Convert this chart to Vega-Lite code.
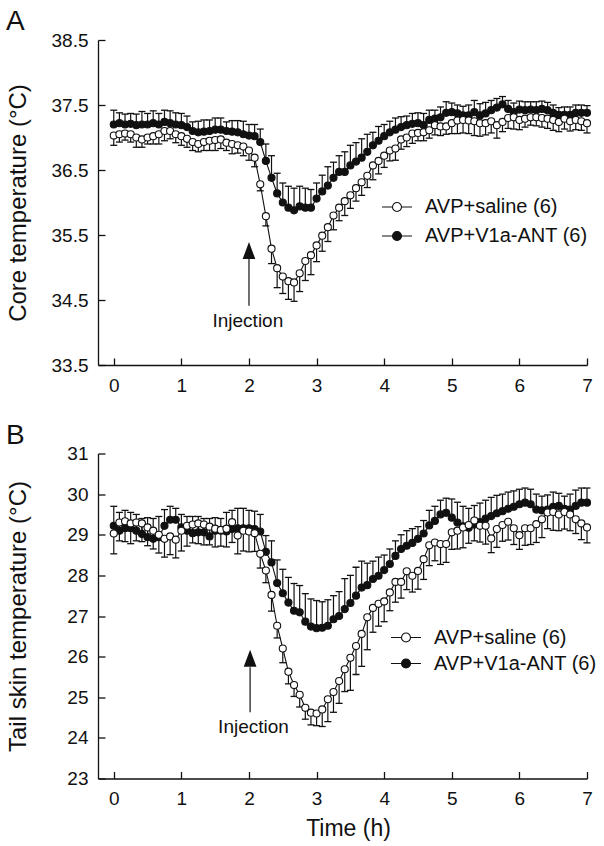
{
"$schema": "https://vega.github.io/schema/vega-lite/v6.json",
"padding": {"left": 6, "top": 8, "right": 0, "bottom": 0},
"config": {"font": "Liberation Sans", "view": {"stroke": null},
  "axis": {"grid": false, "domainColor": "#111", "domainWidth": 1.3, "tickColor": "#111", "tickWidth": 1.3, "tickSize": -7, "labelFontSize": 19, "labelColor": "#111", "titleColor": "#111", "titleFontWeight": "normal", "titleFontSize": 23, "labelFlush": false, "labelOverlap": false},
  "axisY": {"titleFontSize": 24}},
"datasets": {
"d": [
{"p":"A","g":"S","m":0,"v":37.03,"e":36.88},{"p":"A","g":"S","m":5,"v":37.05,"e":36.93},{"p":"A","g":"S","m":10,"v":37.06,"e":36.96},{"p":"A","g":"S","m":15,"v":37.05,"e":36.93},{"p":"A","g":"S","m":20,"v":37.0,"e":36.85},{"p":"A","g":"S","m":25,"v":36.97,"e":36.85},{"p":"A","g":"S","m":30,"v":37.0,"e":36.9},{"p":"A","g":"S","m":35,"v":37.02,"e":36.9},{"p":"A","g":"S","m":40,"v":37.05,"e":36.9},{"p":"A","g":"S","m":45,"v":37.1,"e":36.95},{"p":"A","g":"S","m":50,"v":37.1,"e":36.98},{"p":"A","g":"S","m":55,"v":37.05,"e":36.92},{"p":"A","g":"S","m":60,"v":37.02,"e":36.88},{"p":"A","g":"S","m":65,"v":36.98,"e":36.85},{"p":"A","g":"S","m":70,"v":36.93,"e":36.8},{"p":"A","g":"S","m":75,"v":36.9,"e":36.78},{"p":"A","g":"S","m":80,"v":36.93,"e":36.8},{"p":"A","g":"S","m":85,"v":36.95,"e":36.8},{"p":"A","g":"S","m":90,"v":36.96,"e":36.8},{"p":"A","g":"S","m":95,"v":36.97,"e":36.83},{"p":"A","g":"S","m":100,"v":36.92,"e":36.8},{"p":"A","g":"S","m":105,"v":36.9,"e":36.75},{"p":"A","g":"S","m":110,"v":36.88,"e":36.76},{"p":"A","g":"S","m":115,"v":36.86,"e":36.72},{"p":"A","g":"S","m":120,"v":36.8,"e":36.65},{"p":"A","g":"S","m":125,"v":36.69,"e":36.55},{"p":"A","g":"S","m":130,"v":36.28,"e":36.18},{"p":"A","g":"S","m":135,"v":35.79,"e":35.64},{"p":"A","g":"S","m":140,"v":35.29,"e":35.06},{"p":"A","g":"S","m":145,"v":34.99,"e":34.69},{"p":"A","g":"S","m":150,"v":34.86,"e":34.6},{"p":"A","g":"S","m":155,"v":34.79,"e":34.51},{"p":"A","g":"S","m":160,"v":34.77,"e":34.48},{"p":"A","g":"S","m":165,"v":34.91,"e":34.63},{"p":"A","g":"S","m":170,"v":35.1,"e":34.8},{"p":"A","g":"S","m":175,"v":35.19,"e":34.89},{"p":"A","g":"S","m":180,"v":35.34,"e":35.09},{"p":"A","g":"S","m":185,"v":35.49,"e":35.25},{"p":"A","g":"S","m":190,"v":35.62,"e":35.4},{"p":"A","g":"S","m":195,"v":35.8,"e":35.58},{"p":"A","g":"S","m":200,"v":35.92,"e":35.72},{"p":"A","g":"S","m":205,"v":36.02,"e":35.8},{"p":"A","g":"S","m":210,"v":36.11,"e":35.91},{"p":"A","g":"S","m":215,"v":36.22,"e":36.02},{"p":"A","g":"S","m":220,"v":36.31,"e":36.11},{"p":"A","g":"S","m":225,"v":36.41,"e":36.23},{"p":"A","g":"S","m":230,"v":36.57,"e":36.35},{"p":"A","g":"S","m":235,"v":36.64,"e":36.44},{"p":"A","g":"S","m":240,"v":36.72,"e":36.54},{"p":"A","g":"S","m":245,"v":36.8,"e":36.64},{"p":"A","g":"S","m":250,"v":36.83,"e":36.65},{"p":"A","g":"S","m":255,"v":36.97,"e":36.82},{"p":"A","g":"S","m":260,"v":37.0,"e":36.86},{"p":"A","g":"S","m":265,"v":37.06,"e":36.91},{"p":"A","g":"S","m":270,"v":37.07,"e":36.95},{"p":"A","g":"S","m":275,"v":37.08,"e":36.95},{"p":"A","g":"S","m":280,"v":37.11,"e":36.99},{"p":"A","g":"S","m":285,"v":37.19,"e":37.04},{"p":"A","g":"S","m":290,"v":37.17,"e":37.03},{"p":"A","g":"S","m":295,"v":37.17,"e":37.05},{"p":"A","g":"S","m":300,"v":37.22,"e":37.06},{"p":"A","g":"S","m":305,"v":37.26,"e":37.06},{"p":"A","g":"S","m":310,"v":37.27,"e":37.07},{"p":"A","g":"S","m":315,"v":37.26,"e":37.06},{"p":"A","g":"S","m":320,"v":37.25,"e":37.03},{"p":"A","g":"S","m":325,"v":37.22,"e":37.02},{"p":"A","g":"S","m":330,"v":37.22,"e":37.04},{"p":"A","g":"S","m":335,"v":37.25,"e":37.07},{"p":"A","g":"S","m":340,"v":37.19,"e":36.99},{"p":"A","g":"S","m":345,"v":37.24,"e":37.09},{"p":"A","g":"S","m":350,"v":37.3,"e":37.14},{"p":"A","g":"S","m":355,"v":37.31,"e":37.13},{"p":"A","g":"S","m":360,"v":37.27,"e":37.12},{"p":"A","g":"S","m":365,"v":37.29,"e":37.16},{"p":"A","g":"S","m":370,"v":37.31,"e":37.19},{"p":"A","g":"S","m":375,"v":37.31,"e":37.18},{"p":"A","g":"S","m":380,"v":37.3,"e":37.16},{"p":"A","g":"S","m":385,"v":37.29,"e":37.14},{"p":"A","g":"S","m":390,"v":37.27,"e":37.11},{"p":"A","g":"S","m":395,"v":37.24,"e":37.09},{"p":"A","g":"S","m":400,"v":37.29,"e":37.13},{"p":"A","g":"S","m":405,"v":37.25,"e":37.1},{"p":"A","g":"S","m":410,"v":37.27,"e":37.12},{"p":"A","g":"S","m":415,"v":37.25,"e":37.11},{"p":"A","g":"S","m":420,"v":37.22,"e":37.07},
{"p":"A","g":"N","m":0,"v":37.2,"e":37.42},{"p":"A","g":"N","m":5,"v":37.22,"e":37.38},{"p":"A","g":"N","m":10,"v":37.2,"e":37.36},{"p":"A","g":"N","m":15,"v":37.21,"e":37.37},{"p":"A","g":"N","m":20,"v":37.19,"e":37.36},{"p":"A","g":"N","m":25,"v":37.2,"e":37.4},{"p":"A","g":"N","m":30,"v":37.2,"e":37.37},{"p":"A","g":"N","m":35,"v":37.22,"e":37.41},{"p":"A","g":"N","m":40,"v":37.2,"e":37.37},{"p":"A","g":"N","m":45,"v":37.24,"e":37.42},{"p":"A","g":"N","m":50,"v":37.22,"e":37.41},{"p":"A","g":"N","m":55,"v":37.2,"e":37.38},{"p":"A","g":"N","m":60,"v":37.19,"e":37.37},{"p":"A","g":"N","m":65,"v":37.16,"e":37.33},{"p":"A","g":"N","m":70,"v":37.1,"e":37.24},{"p":"A","g":"N","m":75,"v":37.08,"e":37.25},{"p":"A","g":"N","m":80,"v":37.09,"e":37.27},{"p":"A","g":"N","m":85,"v":37.1,"e":37.27},{"p":"A","g":"N","m":90,"v":37.12,"e":37.3},{"p":"A","g":"N","m":95,"v":37.12,"e":37.3},{"p":"A","g":"N","m":100,"v":37.1,"e":37.24},{"p":"A","g":"N","m":105,"v":37.09,"e":37.26},{"p":"A","g":"N","m":110,"v":37.08,"e":37.26},{"p":"A","g":"N","m":115,"v":37.05,"e":37.25},{"p":"A","g":"N","m":120,"v":37.03,"e":37.2},{"p":"A","g":"N","m":125,"v":37.02,"e":37.2},{"p":"A","g":"N","m":130,"v":36.93,"e":37.13},{"p":"A","g":"N","m":135,"v":36.64,"e":36.9},{"p":"A","g":"N","m":140,"v":36.38,"e":36.72},{"p":"A","g":"N","m":145,"v":36.14,"e":36.45},{"p":"A","g":"N","m":150,"v":36.0,"e":36.3},{"p":"A","g":"N","m":155,"v":35.92,"e":36.25},{"p":"A","g":"N","m":160,"v":35.88,"e":36.22},{"p":"A","g":"N","m":165,"v":35.94,"e":36.25},{"p":"A","g":"N","m":170,"v":35.92,"e":36.22},{"p":"A","g":"N","m":175,"v":35.92,"e":36.2},{"p":"A","g":"N","m":180,"v":36.06,"e":36.3},{"p":"A","g":"N","m":185,"v":36.17,"e":36.42},{"p":"A","g":"N","m":190,"v":36.26,"e":36.55},{"p":"A","g":"N","m":195,"v":36.38,"e":36.62},{"p":"A","g":"N","m":200,"v":36.47,"e":36.72},{"p":"A","g":"N","m":205,"v":36.47,"e":36.78},{"p":"A","g":"N","m":210,"v":36.57,"e":36.88},{"p":"A","g":"N","m":215,"v":36.63,"e":36.92},{"p":"A","g":"N","m":220,"v":36.69,"e":36.98},{"p":"A","g":"N","m":225,"v":36.78,"e":37.05},{"p":"A","g":"N","m":230,"v":36.88,"e":37.08},{"p":"A","g":"N","m":235,"v":36.95,"e":37.17},{"p":"A","g":"N","m":240,"v":37.02,"e":37.2},{"p":"A","g":"N","m":245,"v":37.08,"e":37.25},{"p":"A","g":"N","m":250,"v":37.12,"e":37.3},{"p":"A","g":"N","m":255,"v":37.16,"e":37.32},{"p":"A","g":"N","m":260,"v":37.19,"e":37.33},{"p":"A","g":"N","m":265,"v":37.21,"e":37.37},{"p":"A","g":"N","m":270,"v":37.22,"e":37.38},{"p":"A","g":"N","m":275,"v":37.19,"e":37.37},{"p":"A","g":"N","m":280,"v":37.27,"e":37.42},{"p":"A","g":"N","m":285,"v":37.29,"e":37.42},{"p":"A","g":"N","m":290,"v":37.31,"e":37.47},{"p":"A","g":"N","m":295,"v":37.38,"e":37.55},{"p":"A","g":"N","m":300,"v":37.39,"e":37.53},{"p":"A","g":"N","m":305,"v":37.37,"e":37.5},{"p":"A","g":"N","m":310,"v":37.34,"e":37.48},{"p":"A","g":"N","m":315,"v":37.34,"e":37.5},{"p":"A","g":"N","m":320,"v":37.39,"e":37.57},{"p":"A","g":"N","m":325,"v":37.34,"e":37.52},{"p":"A","g":"N","m":330,"v":37.37,"e":37.54},{"p":"A","g":"N","m":335,"v":37.42,"e":37.57},{"p":"A","g":"N","m":340,"v":37.46,"e":37.6},{"p":"A","g":"N","m":345,"v":37.51,"e":37.63},{"p":"A","g":"N","m":350,"v":37.44,"e":37.57},{"p":"A","g":"N","m":355,"v":37.39,"e":37.53},{"p":"A","g":"N","m":360,"v":37.43,"e":37.56},{"p":"A","g":"N","m":365,"v":37.42,"e":37.55},{"p":"A","g":"N","m":370,"v":37.43,"e":37.55},{"p":"A","g":"N","m":375,"v":37.42,"e":37.55},{"p":"A","g":"N","m":380,"v":37.44,"e":37.56},{"p":"A","g":"N","m":385,"v":37.42,"e":37.54},{"p":"A","g":"N","m":390,"v":37.38,"e":37.5},{"p":"A","g":"N","m":395,"v":37.35,"e":37.46},{"p":"A","g":"N","m":400,"v":37.35,"e":37.47},{"p":"A","g":"N","m":405,"v":37.35,"e":37.47},{"p":"A","g":"N","m":410,"v":37.38,"e":37.5},{"p":"A","g":"N","m":415,"v":37.38,"e":37.5},{"p":"A","g":"N","m":420,"v":37.38,"e":37.49},
{"p":"B","g":"S","m":0,"v":29.03,"e":28.53},{"p":"B","g":"S","m":5,"v":29.3,"e":28.85},{"p":"B","g":"S","m":10,"v":29.33,"e":28.83},{"p":"B","g":"S","m":15,"v":29.28,"e":28.78},{"p":"B","g":"S","m":20,"v":29.3,"e":28.85},{"p":"B","g":"S","m":25,"v":29.28,"e":28.83},{"p":"B","g":"S","m":30,"v":29.18,"e":28.73},{"p":"B","g":"S","m":35,"v":29.1,"e":28.65},{"p":"B","g":"S","m":40,"v":29.0,"e":28.55},{"p":"B","g":"S","m":45,"v":28.9,"e":28.45},{"p":"B","g":"S","m":50,"v":28.96,"e":28.51},{"p":"B","g":"S","m":55,"v":28.88,"e":28.43},{"p":"B","g":"S","m":60,"v":29.1,"e":28.6},{"p":"B","g":"S","m":65,"v":29.22,"e":28.72},{"p":"B","g":"S","m":70,"v":29.25,"e":28.8},{"p":"B","g":"S","m":75,"v":29.28,"e":28.78},{"p":"B","g":"S","m":80,"v":29.25,"e":28.75},{"p":"B","g":"S","m":85,"v":29.2,"e":28.75},{"p":"B","g":"S","m":90,"v":29.15,"e":28.7},{"p":"B","g":"S","m":95,"v":29.12,"e":28.72},{"p":"B","g":"S","m":100,"v":29.15,"e":28.7},{"p":"B","g":"S","m":105,"v":29.31,"e":28.81},{"p":"B","g":"S","m":110,"v":28.98,"e":28.53},{"p":"B","g":"S","m":115,"v":29.1,"e":28.6},{"p":"B","g":"S","m":120,"v":29.08,"e":28.58},{"p":"B","g":"S","m":125,"v":29.04,"e":28.59},{"p":"B","g":"S","m":130,"v":28.53,"e":28.18},{"p":"B","g":"S","m":135,"v":28.12,"e":27.82},{"p":"B","g":"S","m":140,"v":27.52,"e":27.12},{"p":"B","g":"S","m":145,"v":26.76,"e":26.46},{"p":"B","g":"S","m":150,"v":26.2,"e":25.85},{"p":"B","g":"S","m":155,"v":25.63,"e":25.33},{"p":"B","g":"S","m":160,"v":25.3,"e":25.02},{"p":"B","g":"S","m":165,"v":25.06,"e":24.76},{"p":"B","g":"S","m":170,"v":24.74,"e":24.46},{"p":"B","g":"S","m":175,"v":24.62,"e":24.32},{"p":"B","g":"S","m":180,"v":24.6,"e":24.3},{"p":"B","g":"S","m":185,"v":24.7,"e":24.28},{"p":"B","g":"S","m":190,"v":24.95,"e":24.4},{"p":"B","g":"S","m":195,"v":25.13,"e":24.63},{"p":"B","g":"S","m":200,"v":25.4,"e":24.85},{"p":"B","g":"S","m":205,"v":25.69,"e":25.14},{"p":"B","g":"S","m":210,"v":25.97,"e":25.17},{"p":"B","g":"S","m":215,"v":26.26,"e":25.56},{"p":"B","g":"S","m":220,"v":26.56,"e":25.76},{"p":"B","g":"S","m":225,"v":26.97,"e":26.17},{"p":"B","g":"S","m":230,"v":27.2,"e":26.6},{"p":"B","g":"S","m":235,"v":27.3,"e":26.75},{"p":"B","g":"S","m":240,"v":27.36,"e":26.86},{"p":"B","g":"S","m":245,"v":27.58,"e":27.13},{"p":"B","g":"S","m":250,"v":27.84,"e":27.34},{"p":"B","g":"S","m":255,"v":27.84,"e":27.44},{"p":"B","g":"S","m":260,"v":28.1,"e":27.65},{"p":"B","g":"S","m":265,"v":27.99,"e":27.59},{"p":"B","g":"S","m":270,"v":28.11,"e":27.66},{"p":"B","g":"S","m":275,"v":28.4,"e":27.9},{"p":"B","g":"S","m":280,"v":28.74,"e":28.24},{"p":"B","g":"S","m":285,"v":28.81,"e":28.36},{"p":"B","g":"S","m":290,"v":28.77,"e":28.27},{"p":"B","g":"S","m":295,"v":28.77,"e":28.32},{"p":"B","g":"S","m":300,"v":29.06,"e":28.64},{"p":"B","g":"S","m":305,"v":29.1,"e":28.65},{"p":"B","g":"S","m":310,"v":29.18,"e":28.68},{"p":"B","g":"S","m":315,"v":29.24,"e":28.79},{"p":"B","g":"S","m":320,"v":29.35,"e":28.85},{"p":"B","g":"S","m":325,"v":29.22,"e":28.82},{"p":"B","g":"S","m":330,"v":29.22,"e":28.77},{"p":"B","g":"S","m":335,"v":28.91,"e":28.56},{"p":"B","g":"S","m":340,"v":29.14,"e":28.69},{"p":"B","g":"S","m":345,"v":29.24,"e":28.84},{"p":"B","g":"S","m":350,"v":29.32,"e":28.87},{"p":"B","g":"S","m":355,"v":29.16,"e":28.76},{"p":"B","g":"S","m":360,"v":28.99,"e":28.64},{"p":"B","g":"S","m":365,"v":29.16,"e":28.74},{"p":"B","g":"S","m":370,"v":29.16,"e":28.76},{"p":"B","g":"S","m":375,"v":29.26,"e":28.81},{"p":"B","g":"S","m":380,"v":29.38,"e":28.93},{"p":"B","g":"S","m":385,"v":29.55,"e":29.15},{"p":"B","g":"S","m":390,"v":29.56,"e":29.11},{"p":"B","g":"S","m":395,"v":29.5,"e":29.1},{"p":"B","g":"S","m":400,"v":29.56,"e":29.14},{"p":"B","g":"S","m":405,"v":29.5,"e":29.1},{"p":"B","g":"S","m":410,"v":29.38,"e":29.03},{"p":"B","g":"S","m":415,"v":29.28,"e":28.88},{"p":"B","g":"S","m":420,"v":29.18,"e":28.8},
{"p":"B","g":"N","m":0,"v":29.22,"e":29.7},{"p":"B","g":"N","m":5,"v":29.1,"e":29.55},{"p":"B","g":"N","m":10,"v":29.16,"e":29.6},{"p":"B","g":"N","m":15,"v":29.16,"e":29.55},{"p":"B","g":"N","m":20,"v":29.1,"e":29.5},{"p":"B","g":"N","m":25,"v":29.02,"e":29.4},{"p":"B","g":"N","m":30,"v":28.94,"e":29.42},{"p":"B","g":"N","m":35,"v":28.9,"e":29.4},{"p":"B","g":"N","m":40,"v":28.94,"e":29.45},{"p":"B","g":"N","m":45,"v":29.22,"e":29.62},{"p":"B","g":"N","m":50,"v":29.37,"e":29.7},{"p":"B","g":"N","m":55,"v":29.37,"e":29.65},{"p":"B","g":"N","m":60,"v":29.18,"e":29.5},{"p":"B","g":"N","m":65,"v":29.1,"e":29.45},{"p":"B","g":"N","m":70,"v":29.04,"e":29.45},{"p":"B","g":"N","m":75,"v":29.06,"e":29.45},{"p":"B","g":"N","m":80,"v":29.06,"e":29.4},{"p":"B","g":"N","m":85,"v":28.96,"e":29.4},{"p":"B","g":"N","m":90,"v":29.1,"e":29.42},{"p":"B","g":"N","m":95,"v":29.1,"e":29.4},{"p":"B","g":"N","m":100,"v":29.08,"e":29.55},{"p":"B","g":"N","m":105,"v":29.14,"e":29.6},{"p":"B","g":"N","m":110,"v":29.16,"e":29.65},{"p":"B","g":"N","m":115,"v":29.16,"e":29.65},{"p":"B","g":"N","m":120,"v":29.16,"e":29.6},{"p":"B","g":"N","m":125,"v":29.14,"e":29.58},{"p":"B","g":"N","m":130,"v":29.08,"e":29.5},{"p":"B","g":"N","m":135,"v":28.58,"e":28.98},{"p":"B","g":"N","m":140,"v":28.32,"e":28.85},{"p":"B","g":"N","m":145,"v":27.81,"e":28.38},{"p":"B","g":"N","m":150,"v":27.56,"e":28.15},{"p":"B","g":"N","m":155,"v":27.33,"e":27.95},{"p":"B","g":"N","m":160,"v":27.13,"e":27.8},{"p":"B","g":"N","m":165,"v":27.09,"e":27.75},{"p":"B","g":"N","m":170,"v":26.86,"e":27.55},{"p":"B","g":"N","m":175,"v":26.74,"e":27.42},{"p":"B","g":"N","m":180,"v":26.7,"e":27.38},{"p":"B","g":"N","m":185,"v":26.71,"e":27.35},{"p":"B","g":"N","m":190,"v":26.76,"e":27.4},{"p":"B","g":"N","m":195,"v":26.92,"e":27.5},{"p":"B","g":"N","m":200,"v":27.0,"e":27.6},{"p":"B","g":"N","m":205,"v":27.17,"e":27.92},{"p":"B","g":"N","m":210,"v":27.32,"e":28.0},{"p":"B","g":"N","m":215,"v":27.5,"e":28.2},{"p":"B","g":"N","m":220,"v":27.7,"e":28.35},{"p":"B","g":"N","m":225,"v":27.76,"e":28.3},{"p":"B","g":"N","m":230,"v":27.91,"e":28.35},{"p":"B","g":"N","m":235,"v":27.99,"e":28.45},{"p":"B","g":"N","m":240,"v":28.13,"e":28.5},{"p":"B","g":"N","m":245,"v":28.28,"e":28.65},{"p":"B","g":"N","m":250,"v":28.48,"e":28.85},{"p":"B","g":"N","m":255,"v":28.65,"e":29.0},{"p":"B","g":"N","m":260,"v":28.73,"e":29.1},{"p":"B","g":"N","m":265,"v":28.8,"e":29.15},{"p":"B","g":"N","m":270,"v":28.9,"e":29.2},{"p":"B","g":"N","m":275,"v":29.03,"e":29.35},{"p":"B","g":"N","m":280,"v":29.23,"e":29.6},{"p":"B","g":"N","m":285,"v":29.34,"e":29.7},{"p":"B","g":"N","m":290,"v":29.5,"e":29.85},{"p":"B","g":"N","m":295,"v":29.54,"e":29.9},{"p":"B","g":"N","m":300,"v":29.42,"e":29.88},{"p":"B","g":"N","m":305,"v":29.3,"e":29.8},{"p":"B","g":"N","m":310,"v":29.21,"e":29.7},{"p":"B","g":"N","m":315,"v":29.17,"e":29.65},{"p":"B","g":"N","m":320,"v":29.25,"e":29.72},{"p":"B","g":"N","m":325,"v":29.31,"e":29.78},{"p":"B","g":"N","m":330,"v":29.4,"e":29.85},{"p":"B","g":"N","m":335,"v":29.46,"e":29.92},{"p":"B","g":"N","m":340,"v":29.53,"e":29.97},{"p":"B","g":"N","m":345,"v":29.58,"e":30.0},{"p":"B","g":"N","m":350,"v":29.64,"e":30.05},{"p":"B","g":"N","m":355,"v":29.69,"e":30.08},{"p":"B","g":"N","m":360,"v":29.75,"e":30.12},{"p":"B","g":"N","m":365,"v":29.79,"e":30.15},{"p":"B","g":"N","m":370,"v":29.75,"e":30.12},{"p":"B","g":"N","m":375,"v":29.62,"e":30.0},{"p":"B","g":"N","m":380,"v":29.6,"e":29.95},{"p":"B","g":"N","m":385,"v":29.62,"e":29.98},{"p":"B","g":"N","m":390,"v":29.69,"e":30.05},{"p":"B","g":"N","m":395,"v":29.71,"e":30.02},{"p":"B","g":"N","m":400,"v":29.64,"e":29.95},{"p":"B","g":"N","m":405,"v":29.62,"e":30.0},{"p":"B","g":"N","m":410,"v":29.71,"e":30.1},{"p":"B","g":"N","m":415,"v":29.79,"e":30.15},{"p":"B","g":"N","m":420,"v":29.79,"e":30.15}
],
"ann": [
{"p":"A","k":"shaft","m":120,"v":35.13,"e":34.41},
{"p":"A","k":"head","m":120,"v":35.26},
{"p":"A","k":"text","m":119,"v":34.18,"t":"Injection"},
{"p":"B","k":"shaft","m":121,"v":25.74,"e":24.63},
{"p":"B","k":"head","m":121,"v":25.96},
{"p":"B","k":"text","m":124,"v":24.26,"t":"Injection"}
]
},
"bounds": "flush",
"spacing": 88.5,
"resolve": {"scale": {"fill": "independent", "y": "independent"}, "legend": {"fill": "independent"}},
"vconcat": [
{
 "width": 489, "height": 325,
 "title": {"text": "A", "anchor": "start", "frame": "bounds", "fontSize": 28, "fontWeight": "normal", "baseline": "alphabetic", "offset": -27, "color": "#111"},
 "encoding": {
  "x": {"field": "m", "type": "quantitative", "scale": {"domain": [-14, 420]}, "axis": {"values": [0,60,120,180,240,300,360,420], "labelExpr": "datum.value / 60", "title": null, "labelPadding": 18}},
  "y": {"field": "v", "type": "quantitative", "scale": {"domain": [33.5, 38.5], "zero": false}, "axis": {"values": [33.5,34.5,35.5,36.5,37.5,38.5], "format": ".1f", "title": "Core temperature (°C)", "labelPadding": 17, "titleX": -73, "titleBaseline": "alphabetic"}}
 },
 "layer": [
  {"data": {"name": "d"}, "transform": [{"filter": "datum.p == 'A'"}],
   "mark": {"type": "rule", "color": "#111", "strokeWidth": 1.2},
   "encoding": {"y2": {"field": "e"}}},
  {"data": {"name": "d"}, "transform": [{"filter": "datum.p == 'A'"}],
   "mark": {"type": "tick", "orient": "horizontal", "size": 7, "thickness": 1.3, "color": "#111", "opacity": 1},
   "encoding": {
    "y": {"field": "e", "type": "quantitative", "scale": {"domain": [33.5, 38.5], "zero": false}, "axis": {"values": [33.5,34.5,35.5,36.5,37.5,38.5], "format": ".1f", "title": "Core temperature (°C)", "labelPadding": 17, "titleX": -73, "titleBaseline": "alphabetic"}}}},
  {"data": {"name": "d"}, "transform": [{"filter": "datum.p == 'A'"}],
   "mark": {"type": "line", "color": "#111", "strokeWidth": 1.1},
   "encoding": {"detail": {"field": "g"}}},
  {"data": {"name": "d"}, "transform": [{"filter": "datum.p == 'A'"}],
   "mark": {"type": "point", "filled": true, "stroke": "#111", "strokeWidth": 1.1, "size": 50, "opacity": 1},
   "encoding": {
    "order": {"field": "g", "type": "ordinal"},
    "fill": {"field": "g", "type": "nominal", "scale": {"domain": ["S", "N"], "range": ["white", "#111"]},
     "legend": {"orient": "none", "legendX": 283, "legendY": 151, "title": null, "symbolType": "M-1,0H-0.3M0.3,0H1M0.3,0A0.3,0.3 0 1 1 -0.3,0A0.3,0.3 0 1 1 0.3,0Z", "symbolSize": 900, "symbolStrokeColor": "#111", "symbolStrokeWidth": 1.1, "labelFontSize": 20, "labelLimit": 400, "labelOffset": 12, "labelColor": "#111", "rowPadding": 3, "padding": 0, "labelExpr": "datum.label == 'S' ? 'AVP+saline (6)' : 'AVP+V1a-ANT (6)'"}}}},
  {"data": {"name": "ann"}, "transform": [{"filter": "datum.p == 'A' && datum.k == 'shaft'"}],
   "mark": {"type": "rule", "color": "#333", "strokeWidth": 1.4},
   "encoding": {"y2": {"field": "e"}}},
  {"data": {"name": "ann"}, "transform": [{"filter": "datum.p == 'A' && datum.k == 'head'"}],
   "mark": {"type": "point", "shape": "M0,-1L0.75,1L-0.75,1Z", "size": 289, "filled": true, "color": "#111", "opacity": 1},
   "encoding": {}},
  {"data": {"name": "ann"}, "transform": [{"filter": "datum.p == 'A' && datum.k == 'text'"}],
   "mark": {"type": "text", "fontSize": 19, "color": "#111", "baseline": "middle", "align": "center"},
   "encoding": {"text": {"field": "t"}}}
 ]
},
{
 "width": 489, "height": 325,
 "title": {"text": "B", "anchor": "start", "frame": "bounds", "fontSize": 28, "fontWeight": "normal", "baseline": "alphabetic", "offset": -27, "color": "#111"},
 "encoding": {
  "x": {"field": "m", "type": "quantitative", "scale": {"domain": [-14, 420]}, "axis": {"values": [0,60,120,180,240,300,360,420], "labelExpr": "datum.value / 60", "title": "Time (h)", "labelPadding": 18, "titleX": 250, "titleY": 57, "titleBaseline": "alphabetic"}},
  "y": {"field": "v", "type": "quantitative", "scale": {"domain": [23, 31], "zero": false}, "axis": {"values": [23,24,25,26,27,28,29,30,31], "format": "d", "title": "Tail skin temperature (°C)", "labelPadding": 17, "titleX": -73, "titleBaseline": "alphabetic"}}
 },
 "layer": [
  {"data": {"name": "d"}, "transform": [{"filter": "datum.p == 'B'"}],
   "mark": {"type": "rule", "color": "#111", "strokeWidth": 1.2},
   "encoding": {"y2": {"field": "e"}}},
  {"data": {"name": "d"}, "transform": [{"filter": "datum.p == 'B'"}],
   "mark": {"type": "tick", "orient": "horizontal", "size": 7, "thickness": 1.3, "color": "#111", "opacity": 1},
   "encoding": {
    "y": {"field": "e", "type": "quantitative", "scale": {"domain": [23, 31], "zero": false}, "axis": {"values": [23,24,25,26,27,28,29,30,31], "format": "d", "title": "Tail skin temperature (°C)", "labelPadding": 17, "titleX": -73, "titleBaseline": "alphabetic"}}}},
  {"data": {"name": "d"}, "transform": [{"filter": "datum.p == 'B'"}],
   "mark": {"type": "line", "color": "#111", "strokeWidth": 1.1},
   "encoding": {"detail": {"field": "g"}}},
  {"data": {"name": "d"}, "transform": [{"filter": "datum.p == 'B'"}],
   "mark": {"type": "point", "filled": true, "stroke": "#111", "strokeWidth": 1.1, "size": 50, "opacity": 1},
   "encoding": {
    "order": {"field": "g", "type": "ordinal"},
    "fill": {"field": "g", "type": "nominal", "scale": {"domain": ["S", "N"], "range": ["white", "#111"]},
     "legend": {"orient": "none", "legendX": 292, "legendY": 168, "title": null, "symbolType": "M-1,0H-0.3M0.3,0H1M0.3,0A0.3,0.3 0 1 1 -0.3,0A0.3,0.3 0 1 1 0.3,0Z", "symbolSize": 900, "symbolStrokeColor": "#111", "symbolStrokeWidth": 1.1, "labelFontSize": 20, "labelLimit": 400, "labelOffset": 12, "labelColor": "#111", "rowPadding": 0, "padding": 0, "labelExpr": "datum.label == 'S' ? 'AVP+saline (6)' : 'AVP+V1a-ANT (6)'"}}}},
  {"data": {"name": "ann"}, "transform": [{"filter": "datum.p == 'B' && datum.k == 'shaft'"}],
   "mark": {"type": "rule", "color": "#333", "strokeWidth": 1.4},
   "encoding": {"y2": {"field": "e"}}},
  {"data": {"name": "ann"}, "transform": [{"filter": "datum.p == 'B' && datum.k == 'head'"}],
   "mark": {"type": "point", "shape": "M0,-1L0.75,1L-0.75,1Z", "size": 289, "filled": true, "color": "#111", "opacity": 1},
   "encoding": {}},
  {"data": {"name": "ann"}, "transform": [{"filter": "datum.p == 'B' && datum.k == 'text'"}],
   "mark": {"type": "text", "fontSize": 19, "color": "#111", "baseline": "middle", "align": "center"},
   "encoding": {"text": {"field": "t"}}}
 ]
}
]
}
